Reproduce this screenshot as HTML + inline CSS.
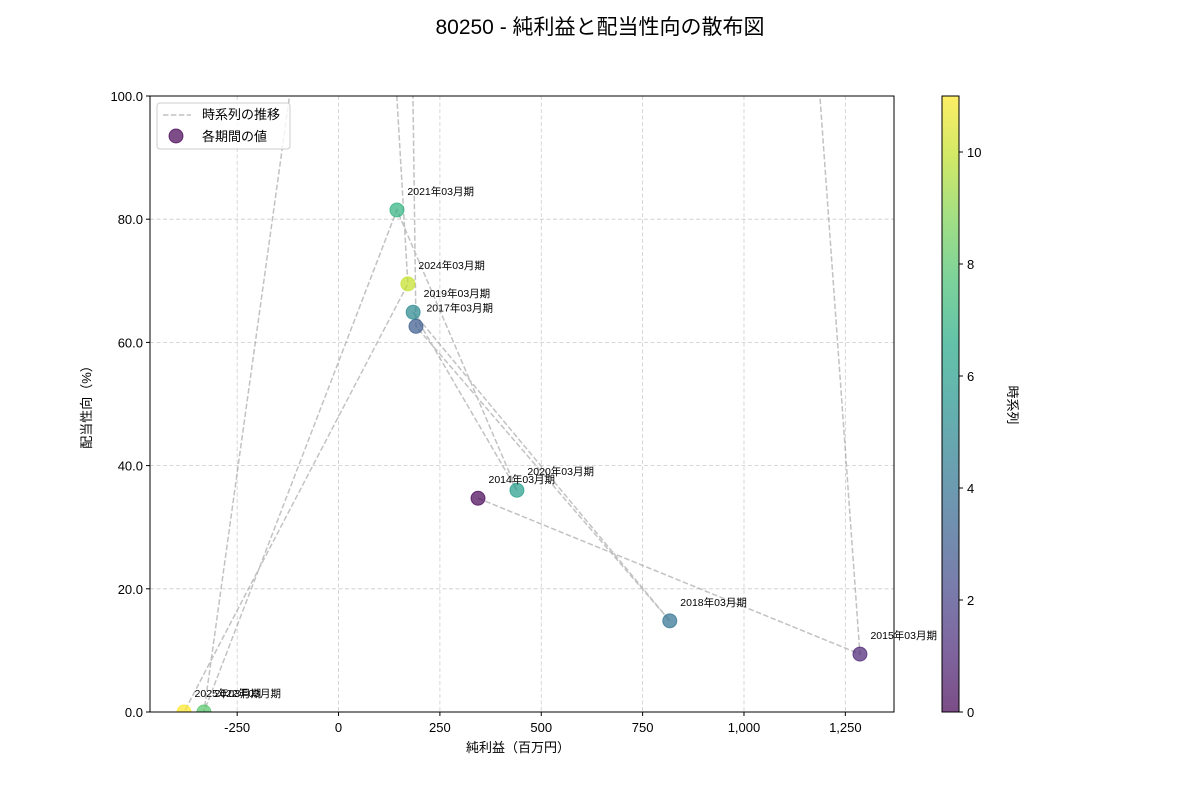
<!DOCTYPE html>
<html><head><meta charset="utf-8">
<style>
body{margin:0;background:#fff;}
svg text{font-family:"Liberation Sans","Noto Sans CJK JP",sans-serif;}
</style></head>
<body>
<svg id="chart" width="1200" height="800" viewBox="0 0 1200 800" xmlns="http://www.w3.org/2000/svg">
<defs>
<clipPath id="plotclip"><rect x="150" y="96" width="744" height="616"/></clipPath>
<linearGradient id="cbgrad" x1="0" y1="1" x2="0" y2="0"></linearGradient>
</defs>
<rect x="0" y="0" width="1200" height="800" fill="#fff"/>
<text x="600" y="34" text-anchor="middle" font-size="21" fill="#000">80250 - 純利益と配当性向の散布図</text>
<g id="grid"></g>
<g id="lines" clip-path="url(#plotclip)"></g>
<g id="points" clip-path="url(#plotclip)"></g>
<rect x="150" y="96" width="744" height="616" fill="none" stroke="#000" stroke-width="1"/>
<g id="labels"></g>
<g id="xaxis"></g>
<g id="yaxis"></g>
<text x="518" y="752" text-anchor="middle" font-size="13">純利益（百万円）</text>
<text transform="translate(91,404) rotate(-90)" text-anchor="middle" font-size="13">配当性向（%）</text>
<g>
<rect x="157" y="103" width="133" height="46" rx="3" fill="#fff" fill-opacity="0.8" stroke="#ccc"/>
<line x1="163" y1="115" x2="191" y2="115" stroke="#999" stroke-opacity="0.6" stroke-width="1.5" stroke-dasharray="5.5,2.4"/>
<text x="202" y="119" font-size="13">時系列の推移</text>
<circle cx="176" cy="136" r="7" fill="#440154" fill-opacity="0.7" stroke="#440154" stroke-opacity="0.7"/>
<text x="202" y="141" font-size="13">各期間の値</text>
</g>
<g id="colorbar">
<rect x="942" y="96" width="17" height="616" fill="url(#cbgrad)" fill-opacity="0.7"/>
<rect x="942" y="96" width="17" height="616" fill="none" stroke="#000"/>
<text transform="translate(1008,405) rotate(90)" text-anchor="middle" font-size="13">時系列</text>
</g>
</svg>
<script>
const periods = ["2014年03月期","2015年03月期","2016年03月期","2017年03月期","2018年03月期","2019年03月期","2020年03月期","2021年03月期","2022年03月期","2023年03月期","2024年03月期","2025年03月期"];
const netIncome = [344, 1286, -40, 191, 817, 184, 440, 144, -332, 65, 171, -381];
const payoutRatio = [34.7, 9.4, 1226, 62.6, 14.8, 64.9, 36.0, 81.5, 0, 188, 69.5, 0];
const xTicks = [-250, 0, 250, 500, 750, 1000, 1250];
const xTickLabels = ["-250","0","250","500","750","1,000","1,250"];
const yTicks = [0, 20, 40, 60, 80, 100];
const yTickLabels = ["0.0","20.0","40.0","60.0","80.0","100.0"];
const cbTicks = [0, 2, 4, 6, 8, 10];

const NS = "http://www.w3.org/2000/svg";
const X0=150, X1=894, Y0=712, Y1=96;
const xMin=-465, xMax=1370, yMin=0, yMax=100;
const xs = v => X0 + (v - xMin) / (xMax - xMin) * (X1 - X0);
const ys = v => Y0 - (v - yMin) / (yMax - yMin) * (Y0 - Y1);
const tMax = periods.length - 1;
const cs = v => 712 - v / tMax * 616;

const vir = ["#440154","#482475","#414487","#355f8d","#2a788e","#21918c","#22a884","#44bf70","#7ad151","#bddf26","#fde725"];
function hex(h){return [1,3,5].map(i=>parseInt(h.substr(i,2),16));}
function viridis(f){
  f=Math.max(0,Math.min(1,f));const p=f*10,i=Math.min(9,Math.floor(p)),r=p-i;
  const a=hex(vir[i]),b=hex(vir[i+1]);
  return "rgb("+a.map((c,k)=>Math.round(c+(b[k]-c)*r)).join(",")+")";
}
function mk(tag, attrs, parent){
  const e=document.createElementNS(NS,tag);
  for(const k in attrs) e.setAttribute(k,attrs[k]);
  parent.appendChild(e); return e;
}
const grid=document.getElementById('grid'), xa=document.getElementById('xaxis'), ya=document.getElementById('yaxis');
xTicks.forEach((t,i)=>{
  const x=xs(t);
  const g=mk('line',{x1:x,x2:x,y1:Y1,y2:Y0,stroke:'#ccc','stroke-dasharray':'4,2.5','stroke-width':0.8},grid);
  
  
  const tk=mk('line',{x1:x,x2:x,y1:Y0,y2:Y0+4,stroke:'#000'},xa);
  
  
  const tl=mk('text',{x:x,y:Y0+20,'text-anchor':'middle','font-size':13},xa);
  tl.textContent=xTickLabels[i];
  
  
});
yTicks.forEach((t,i)=>{
  const y=ys(t);
  const g=mk('line',{x1:X0,x2:X1,y1:y,y2:y,stroke:'#ccc','stroke-dasharray':'4,2.5','stroke-width':0.8},grid);
  
  
  const tk=mk('line',{x1:X0-4,x2:X0,y1:y,y2:y,stroke:'#000'},ya);
  
  
  const tl=mk('text',{x:X0-7,y:y+5,'text-anchor':'end','font-size':13},ya);
  tl.textContent=yTickLabels[i];
  
  
});
// trend line
const pl=mk('polyline',{points:netIncome.map((v,i)=>xs(v)+","+ys(payoutRatio[i])).join(" "),fill:'none',stroke:'#999','stroke-opacity':0.6,'stroke-width':1.5,'stroke-dasharray':'5.5,2.4'},document.getElementById('lines'));


// points & labels
const pg=document.getElementById('points'), lg=document.getElementById('labels');
netIncome.forEach((v,i)=>{
  const x=xs(v), y=ys(payoutRatio[i]), col=viridis(i/tMax);
  const c=mk('circle',{cx:x,cy:y,r:7,fill:col,'fill-opacity':0.7,stroke:col,'stroke-opacity':0.7},pg);
  
  
  if(x>=X0&&x<=X1&&y>=Y1-0.5&&y<=Y0+0.5){
    const t=mk('text',{x:x+10.5,y:y-15,'font-size':10.5},lg);
    t.textContent=periods[i];
    
    
  }
});
// colorbar
const grad=document.getElementById('cbgrad');
for(let k=0;k<=20;k++){mk('stop',{offset:(k/20),'stop-color':viridis(k/20)},grad);}
const cb=document.getElementById('colorbar');
cbTicks.forEach(t=>{
  const y=cs(t);
  const tk=mk('line',{x1:959,x2:963,y1:y,y2:y,stroke:'#000'},cb);
  
  
  const tl=mk('text',{x:967,y:y+5,'font-size':13},cb);
  tl.textContent=String(t);
  
  
});
</script>
</body></html>
